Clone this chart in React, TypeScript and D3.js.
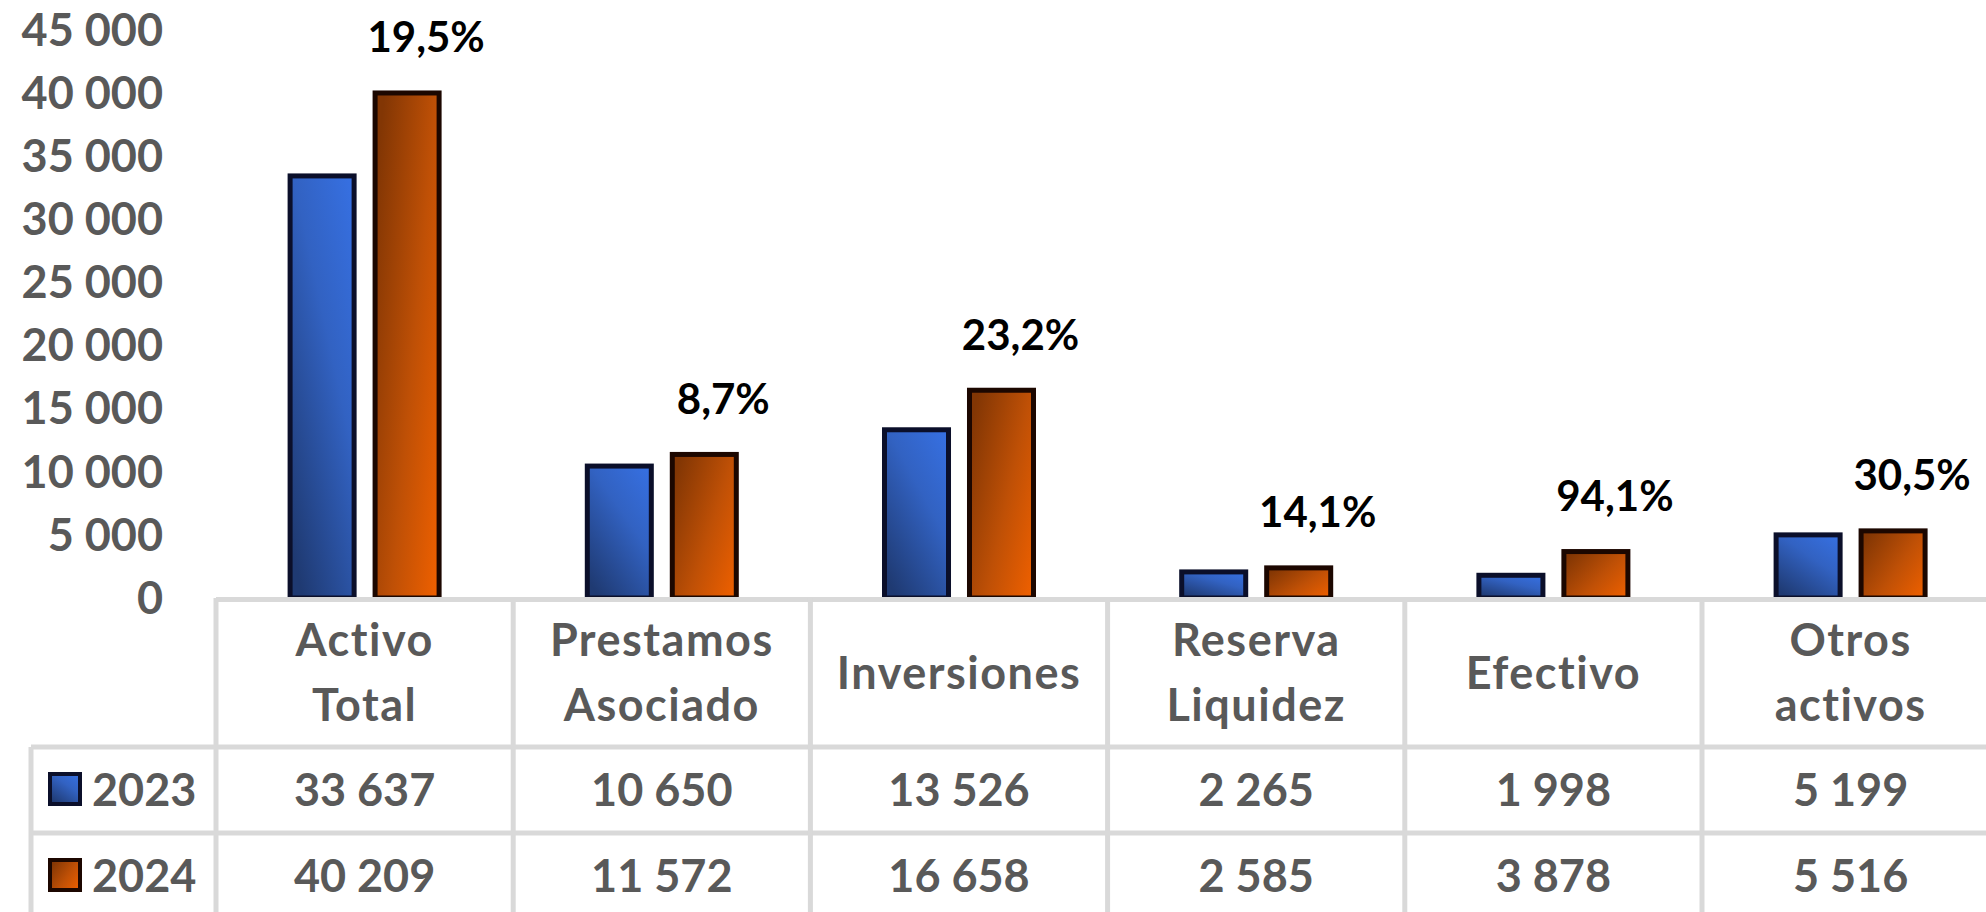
import React from 'react';
import * as d3 from 'd3';

const categories = ['Activo\nTotal', 'Prestamos\nAsociado', 'Inversiones', 'Reserva\nLiquidez', 'Efectivo', 'Otros\nactivos'];
const years = ['2023', '2024'];
const values2023 = [33637, 10650, 13526, 2265, 1998, 5199];
const values2024 = [40209, 11572, 16658, 2585, 3878, 5516];
const changeLabels = ['19,5%', '8,7%', '23,2%', '14,1%', '94,1%', '30,5%'];

const W = 1986;
const H = 912;
const baseY = 598;
const topY = 30;
const tableLeft = 216;
const colW = 297.2;
const legendLeft = 31;
const headerBottom = 747;
const row1Bottom = 833;
const row2Bottom = 919;
const gridColor = '#d9d9d9';
const textColor = '#595959';
const font = "Lato, 'Open Sans', sans-serif";
const sw = 5;

const fmt = d3.formatLocale({ decimal: ',', thousands: '\u00a0', grouping: [3], currency: ['', ''] }).format(',d');

const App = () => {
  const y = d3.scaleLinear().domain([0, 45000]).range([baseY, topY]);
  const x = d3.scaleBand().domain(categories).range([tableLeft, tableLeft + colW * categories.length]);
  const xs = d3.scaleBand().domain(years).range([-77, 77]).paddingInner(0.188);
  const series = [
    { year: '2023', values: values2023, fill: 'url(#gBlue)', stroke: '#0b0f2a' },
    { year: '2024', values: values2024, fill: 'url(#gOrange)', stroke: '#1c0700' },
  ];
  const rows = [
    { top: headerBottom, bottom: row1Bottom },
    { top: row1Bottom, bottom: row2Bottom },
  ];

  return (
    <div style={{ position: 'absolute', left: 0, top: 0 }}>
      <svg width={W} height={H} style={{ display: 'block', background: '#fff' }}>
        <defs>
          <linearGradient id="gBlue" x1="0.9" y1="0" x2="0.2" y2="1">
            <stop offset="0" stopColor="#366fe0" />
            <stop offset="0.4" stopColor="#3262c2" />
            <stop offset="1" stopColor="#1f3a72" />
          </linearGradient>
          <linearGradient id="gOrange" x1="0" y1="0.2" x2="1" y2="0.9">
            <stop offset="0" stopColor="#823604" />
            <stop offset="0.55" stopColor="#bf5006" />
            <stop offset="1" stopColor="#ec5f00" />
          </linearGradient>
        </defs>

        {/* y axis labels */}
        {y.ticks(9).map(t => (
          <text key={t} x={163} y={y(t)} dy="0.35em" textAnchor="end"
            fontFamily={font} fontWeight={700} fontSize={45} fill={textColor}>
            {fmt(t)}
          </text>
        ))}

        {/* bars */}
        {categories.map((c, i) => {
          const cx = (x(c) as number) + x.bandwidth() / 2;
          return series.map(s => {
            const v = s.values[i];
            const bx = cx + (xs(s.year) as number);
            return (
              <rect key={c + s.year} x={bx + sw / 2} y={y(v) + sw / 2}
                width={xs.bandwidth() - sw} height={baseY - y(v) - sw / 2}
                fill={s.fill} stroke={s.stroke} strokeWidth={sw} />
            );
          });
        })}

        {/* change labels */}
        {categories.map((c, i) => {
          const cx = (x(c) as number) + x.bandwidth() / 2 + (xs('2024') as number) + xs.bandwidth() / 2;
          return (
            <text key={'p' + i} x={cx + 19} y={y(values2024[i]) - 38} textAnchor="middle"
              fontFamily={font} fontWeight={700} fontSize={42} fill="#000">
              {changeLabels[i]}
            </text>
          );
        })}

        {/* data table */}
        <g stroke={gridColor} strokeWidth={5} fill="none">
          <line x1={tableLeft} x2={W} y1={baseY + 1.5} y2={baseY + 1.5} />
          <line x1={legendLeft} x2={W} y1={headerBottom} y2={headerBottom} />
          <line x1={legendLeft} x2={W} y1={row1Bottom} y2={row1Bottom} />
          <line x1={legendLeft} x2={legendLeft} y1={headerBottom} y2={H} />
          {categories.map(c => (
            <line key={'v' + c} x1={x(c)} x2={x(c)} y1={baseY} y2={H} />
          ))}
        </g>

        {categories.map(c => {
          const cx = (x(c) as number) + x.bandwidth() / 2;
          const lines = c.split('\n');
          const mid = (baseY + headerBottom) / 2 + 16;
          return (
            <text key={'h' + c} textAnchor="middle" fontFamily={font} fontWeight={700} fontSize={45}
              letterSpacing={1.5} fill={textColor}>
              {lines.map((l, k) => (
                <tspan key={k} x={cx} y={mid + (k - (lines.length - 1) / 2) * 65}>{l}</tspan>
              ))}
            </text>
          );
        })}

        {series.map((s, r) => {
          const ty = (rows[r].top + rows[r].bottom) / 2 + 16;
          const my = (rows[r].top + rows[r].bottom) / 2 - 1;
          return (
            <g key={'row' + s.year}>
              <rect x={50} y={my - 15} width={30} height={30} fill={s.fill} stroke={s.stroke} strokeWidth={4} />
              <text x={92} y={ty} fontFamily={font} fontWeight={700} fontSize={45} fill={textColor}>{s.year}</text>
              {categories.map((c, i) => (
                <text key={c} x={(x(c) as number) + x.bandwidth() / 2} y={ty} textAnchor="middle"
                  fontFamily={font} fontWeight={700} fontSize={45} fill={textColor}>
                  {fmt(s.values[i])}
                </text>
              ))}
            </g>
          );
        })}
      </svg>
    </div>
  );
};

export default App;
